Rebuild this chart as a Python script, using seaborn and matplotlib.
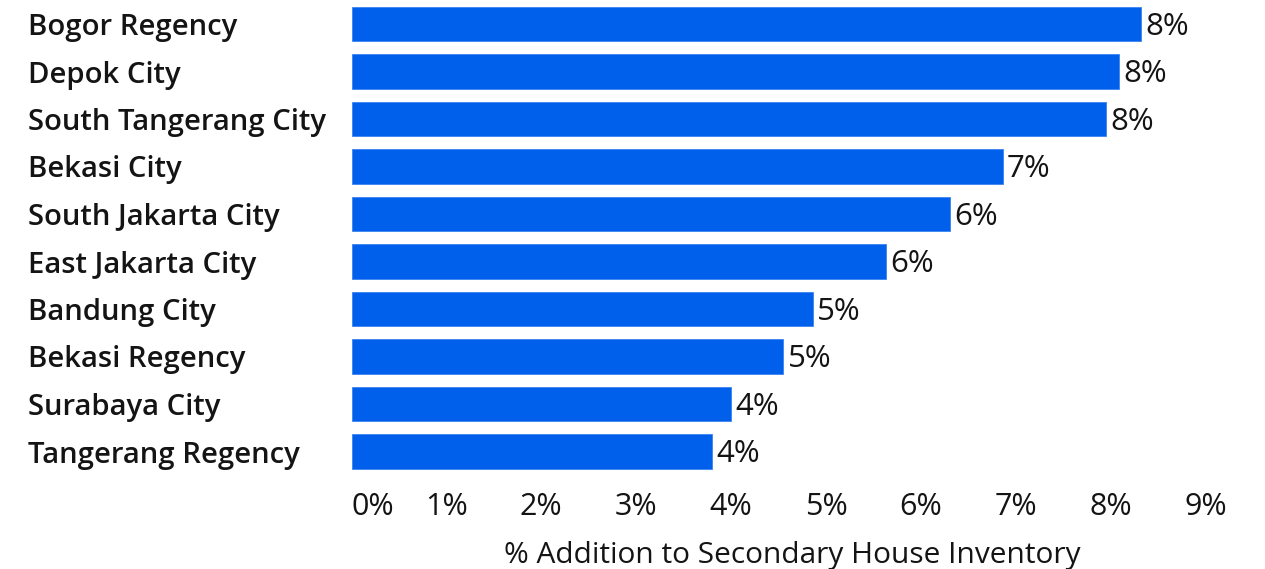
import matplotlib
matplotlib.use("Agg")
import matplotlib.pyplot as plt
import seaborn as sns
import pandas as pd

# Share of new listings added to the secondary house inventory, by city/regency
regions = [
    "Bogor Regency", "Depok City", "South Tangerang City", "Bekasi City",
    "South Jakarta City", "East Jakarta City", "Bandung City",
    "Bekasi Regency", "Surabaya City", "Tangerang Regency",
]
pct_addition = [8.32, 8.09, 7.95, 6.86, 6.31, 5.63, 4.86, 4.55, 4.00, 3.80]
x_ticks = [0, 1, 2, 3, 4, 5, 6, 7, 8, 9]
x_tick_labels = [f"{t}%" for t in x_ticks]

df = pd.DataFrame({"region": regions, "pct": pct_addition})

sns.set_theme(style="white")
plt.rcParams["font.family"] = ["Open Sans", "DejaVu Sans"]

TEXT = "#141414"
W, H, DPI = 1265, 569, 100
fig = plt.figure(figsize=(W / DPI, H / DPI), dpi=DPI)

x_max = 9.3
px_per_unit = 94.9
ax_left_px = 351.5
ax_top_px = 0.25
ax_bottom_px = 475.25
ax = fig.add_axes([
    ax_left_px / W,
    1 - ax_bottom_px / H,
    x_max * px_per_unit / W,
    (ax_bottom_px - ax_top_px) / H,
])

sns.barplot(data=df, x="pct", y="region", orient="h", color="#005FEB",
            width=0.72, saturation=1, edgecolor="#3C82F0", linewidth=0.6, ax=ax)

ax.set_xlim(0, x_max)
ax.set_ylim(len(regions) - 0.5, -0.5)

for c in ax.containers:
    anns = ax.bar_label(c, labels=[f"{v:.0f}%" for v in c.datavalues],
                        padding=3, fontsize=22.5, color=TEXT)
    for a in anns:
        a.xyann = (3, -2)

ax.set_xticks(x_ticks)
ax.set_xticklabels(x_tick_labels, fontsize=22, color=TEXT)
ax.get_xticklabels()[0].set_horizontalalignment("left")
ax.tick_params(axis="x", length=0, pad=12)

label_left_px = 28
ax.tick_params(axis="y", length=0, pad=(ax_left_px - label_left_px) * 72 / DPI)
for lbl in ax.get_yticklabels():
    lbl.set_horizontalalignment("left")
    lbl.set_fontsize(21.1)
    lbl.set_fontweight("semibold")
    lbl.set_color(TEXT)

ax.set_ylabel("")
ax.set_xlabel("% Addition to Secondary House Inventory", fontsize=21.5,
              color=TEXT)
ax.xaxis.label.set_verticalalignment("center")
ax.xaxis.set_label_coords((792 - ax_left_px) / (x_max * px_per_unit),
                          -(555 - ax_bottom_px) / (ax_bottom_px - ax_top_px))

for s in ax.spines.values():
    s.set_visible(False)
ax.grid(False)

fig.savefig("out.png", dpi=DPI, facecolor="white")
